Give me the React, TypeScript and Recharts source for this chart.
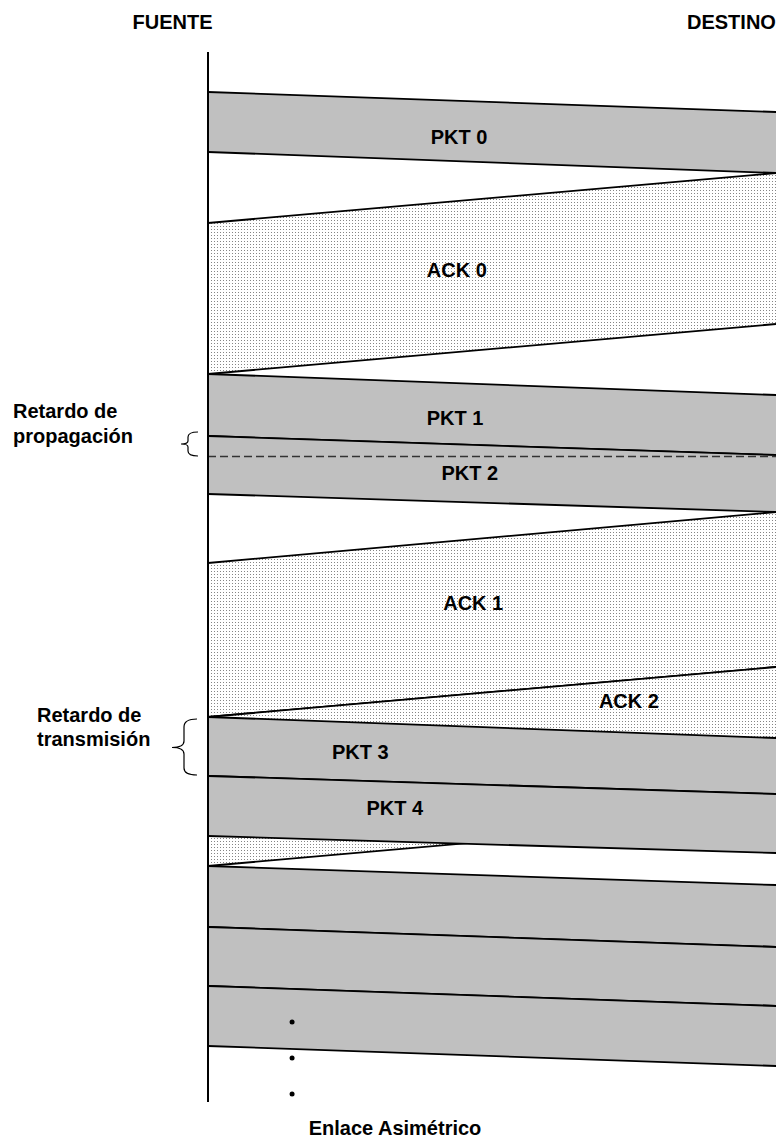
import React from "react";
import { Area, ComposedChart, Line, Scatter, XAxis, YAxis } from "recharts";

// x: 0 = source (FUENTE), 1 = destination (DESTINO); y: time, growing downwards
const PKT_SRC_START = [92, 374, 436, 717, 776, 866, 927, 986];
const PKT_SRC_END = [152, 436, 494, 776, 836, 927, 986, 1046];
const PKT_DST_START = [112, 395, 455, 738, 794, 885, 947, 1006];
const PKT_DST_END = [173, 455, 512, 794, 853, 947, 1006, 1066];

const ACK_DST_START = [173, 512, 667];
const ACK_DST_END = [324, 667, 816];
const ACK_SRC_START = [223, 563, 717];
const ACK_SRC_END = [374, 717, 866];

const LABELS = ["PKT 0", "ACK 0", "PKT 1", "PKT 2", "ACK 1", "ACK 2", "PKT 3", "PKT 4"];
const LABEL_X = [0.442, 0.438, 0.435, 0.461, 0.467, 0.741, 0.268, 0.329];
const LABEL_T = [136.5, 270, 418, 473, 603, 700.5, 752, 808];

const DOTS_X = [0.148, 0.148, 0.148];
const DOTS_T = [1022, 1058, 1094];

const SOURCE_LINE_T = [52, 1102];
const PROP_MARK_T = 456.5;

const FONT = "'Liberation Sans', Arial, sans-serif";

const pktData = PKT_SRC_START.map((_, i) => [
  { x: 0, range: [PKT_SRC_START[i], PKT_SRC_END[i]] },
  { x: 1, range: [PKT_DST_START[i], PKT_DST_END[i]] },
]);
const ackData = ACK_DST_START.map((_, i) => [
  { x: 0, range: [ACK_SRC_START[i], ACK_SRC_END[i]] },
  { x: 1, range: [ACK_DST_START[i], ACK_DST_END[i]] },
]);

const labelData = LABELS.map((label, i) => ({ x: LABEL_X[i], t: LABEL_T[i], label }));
const dotData = DOTS_X.map((x, i) => ({ x, t: DOTS_T[i] }));
const sourceLine = SOURCE_LINE_T.map((t) => ({ x: 0, t }));
const propLine = [
  { x: 0, t: PROP_MARK_T },
  { x: 1, t: PROP_MARK_T },
];

function pkt(i: number) {
  return (
    <Area
      key={`pkt${i}`}
      data={pktData[i]}
      dataKey="range"
      type="linear"
      fill="#c0c0c0"
      fillOpacity={1}
      stroke="#000"
      strokeWidth={1.8}
      dot={false}
      activeDot={false}
      isAnimationActive={false}
    />
  );
}

function ack(i: number) {
  return (
    <Area
      key={`ack${i}`}
      data={ackData[i]}
      dataKey="range"
      type="linear"
      fill="url(#dots)"
      fillOpacity={1}
      stroke="#000"
      strokeWidth={1.8}
      dot={false}
      activeDot={false}
      isAnimationActive={false}
    />
  );
}

const textStyle = { fontFamily: FONT, fontWeight: 700, fontSize: 20, fill: "#000" };

export default function App() {
  return (
    <div style={{ position: "absolute", left: 0, top: 0, width: 776, height: 1138, background: "#fff" }}>
      <ComposedChart width={776} height={1138} margin={{ top: 0, right: 0, bottom: 0, left: 208 }}>
        <defs>
          <pattern id="dots" width="3" height="3" patternUnits="userSpaceOnUse">
            <rect width="3" height="3" fill="#fff" />
            <rect x="1" y="1" width="1" height="1" fill="#858585" />
          </pattern>
        </defs>
        <XAxis type="number" dataKey="x" domain={[0, 1]} hide />
        <YAxis type="number" dataKey="t" domain={[0, 1138]} reversed hide />

        {pkt(0)}
        {ack(0)}
        {pkt(1)}
        {pkt(2)}
        {ack(1)}
        {ack(2)}
        {pkt(3)}
        {pkt(4)}
        {pkt(5)}
        {pkt(6)}
        {pkt(7)}

        <Line
          data={propLine}
          dataKey="t"
          type="linear"
          stroke="#333"
          strokeWidth={1.5}
          strokeDasharray="8 4"
          dot={false}
          activeDot={false}
          isAnimationActive={false}
        />
        <Line
          data={sourceLine}
          dataKey="t"
          type="linear"
          stroke="#000"
          strokeWidth={2}
          dot={false}
          activeDot={false}
          isAnimationActive={false}
        />
        <Scatter
          data={dotData}
          dataKey="t"
          fill="#000"
          isAnimationActive={false}
          shape={(p: any) => <circle cx={p.cx} cy={p.cy} r={2.5} fill="#000" />}
        />
        <Scatter
          data={labelData}
          dataKey="t"
          isAnimationActive={false}
          shape={(p: any) => (
            <text x={p.cx} y={p.cy} dy={7} textAnchor="middle" style={textStyle}>
              {p.payload.label}
            </text>
          )}
        />

        <text x={172.5} y={29} textAnchor="middle" style={textStyle}>FUENTE</text>
        <text x={687} y={29} style={textStyle}>DESTINO</text>
        <text x={13} y={418} style={textStyle}>Retardo de</text>
        <text x={13} y={443} style={textStyle}>propagación</text>
        <text x={37} y={721.5} style={textStyle}>Retardo de</text>
        <text x={37} y={746} style={textStyle}>transmisión</text>
        <text x={395} y={1135} textAnchor="middle" style={textStyle}>Enlace Asimétrico</text>

        <path
          d="M198,432 Q188,432 188,437 L188,441 Q188,444 181,444 Q188,444 188,447 L188,451 Q188,456 198,456"
          fill="none"
          stroke="#000"
          strokeWidth={1.2}
        />
        <path
          d="M197,719 Q184,719 184,727 L184,741 Q184,747.5 172,747.5 Q184,747.5 184,754 L184,768 Q184,775 197,775"
          fill="none"
          stroke="#000"
          strokeWidth={1.2}
        />
      </ComposedChart>
    </div>
  );
}
